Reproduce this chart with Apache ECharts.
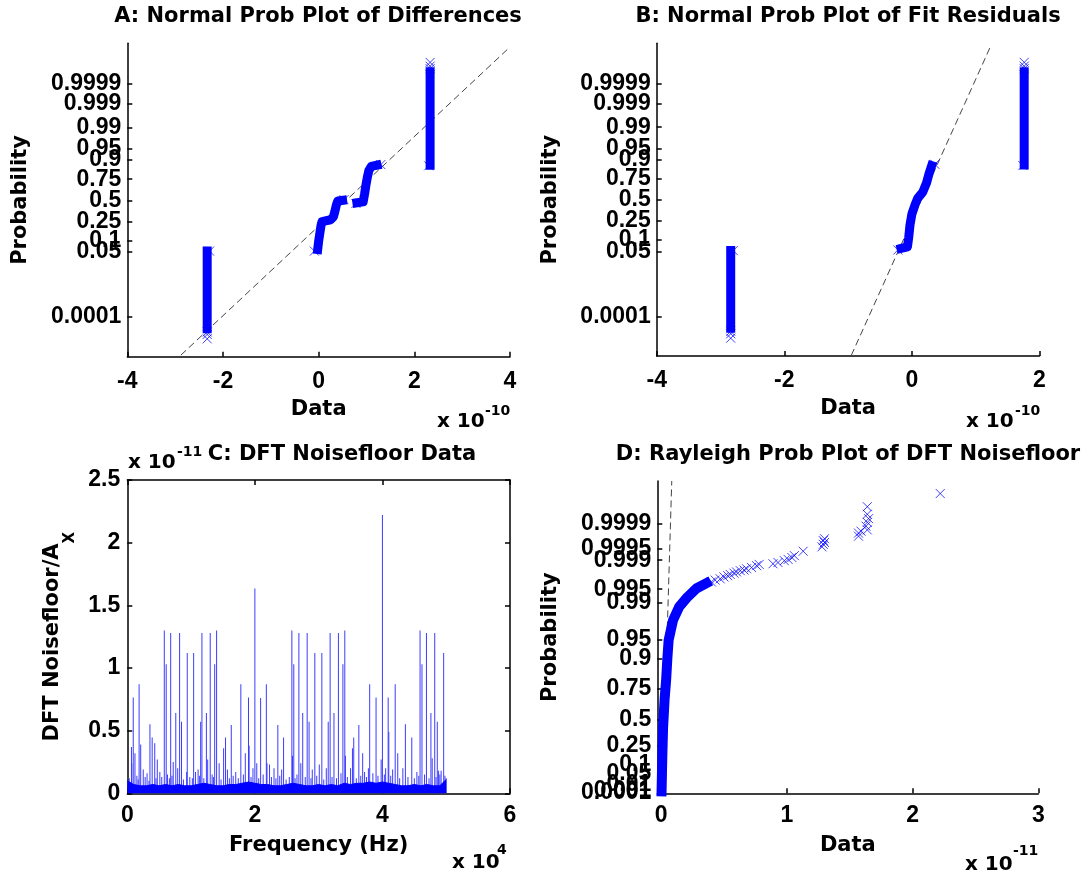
<!DOCTYPE html>
<html><head><meta charset="utf-8">
<script src="https://cdn.jsdelivr.net/npm/echarts@6/dist/echarts.min.js"></script>
<style>html,body{margin:0;padding:0;background:#fff}#c{width:1088px;height:875px}</style>
</head><body><div id="c"></div>
<script>
// ================= DATA =================
// probability tick labels
const normTickLabels = ['0.0001','0.05','0.1','0.25','0.5','0.75','0.9','0.95','0.99','0.999','0.9999'];
const rayTickLabels = ['0.0001','0.001','0.01','0.05','0.1','0.25','0.5','0.75','0.9','0.95','0.99','0.995','0.999','0.9995','0.9999'];
const rayCrowdedLabels = ['0.001','0.01','0.05','0.1'];   // crowded near the D origin
const xTicksA = [-4,-2,0,2,4];
const xTicksB = [-4,-2,0,2];
const xTicksC = [0,2,4,6];
const yTicksC = [0,0.5,1,1.5,2,2.5];
const xTicksD = [0,1,2,3];

// A: [data (x1e-10), normal quantile]
const aRefLine = [[-2.88,-4.94],[3.97,4.85]];
const aLeftColumn = [[-2.33,-4.10],[-2.33,-1.62]];
const aMidLower = [[-0.02,-1.57],[0.0,-1.3],[0.03,-1.0],[0.05,-0.8],[0.07,-0.68],[0.25,-0.62],[0.31,-0.52],[0.34,-0.35],[0.37,-0.15],[0.40,-0.02],[0.50,0.0]];
const aMidUpper = [[0.80,-0.08],[0.93,-0.05],[0.96,0.2],[0.99,0.5],[1.02,0.75],[1.05,0.95],[1.10,1.08],[1.22,1.12]];
const aRightColumn = [[2.33,1.12],[2.33,4.10]];
const aCrosses = [[-2.33,-4.20],[-2.33,-4.28],[-2.33,-4.42],[-2.28,-1.62],[-0.09,-1.62],[0.53,0.02],[0.78,-0.10],[1.30,1.14],[2.33,4.20],[2.33,4.28],[2.33,4.40],[2.30,1.10]];

// B: [data (x1e-10), normal quantile]
const bRefLine = [[-0.95,-4.97],[1.23,4.90]];
const bLeftColumn = [[-2.84,-4.10],[-2.84,-1.62]];
const bMid = [[-0.17,-1.55],[-0.07,-1.5],[-0.05,-1.2],[-0.03,-0.8],[0.0,-0.45],[0.05,-0.15],[0.09,0.05],[0.17,0.25],[0.23,0.55],[0.27,0.85],[0.31,1.1]];
const bRightColumn = [[1.76,1.12],[1.76,4.10]];
const bCrosses = [[-2.84,-4.20],[-2.84,-4.28],[-2.84,-4.42],[-2.80,-1.62],[-0.22,-1.6],[0.36,1.14],[1.76,4.20],[1.76,4.28],[1.76,4.40],[1.74,1.10]];

// C: [frequency (x1e4 Hz), DFT noisefloor/Ax (x1e-11)]
const cLargeSpikes = [[0.065,0.37],[0.093,0.765],[0.12,0.32],[0.185,0.87],[0.21,0.39],[0.25,0.19],[0.355,0.55],[0.39,0.445],[0.43,0.40],[0.47,0.27],
 [0.58,1.30],[0.61,1.03],[0.68,1.28],[0.76,0.64],[0.82,1.28],[0.85,0.57],[0.94,1.12],[1.04,1.12],[1.15,0.57],[1.17,1.28],
 [1.24,0.64],[1.30,1.28],[1.37,1.03],[1.40,1.30],[1.51,0.36],[1.54,0.445],[1.63,0.545],[1.78,0.87],[1.85,0.32],[1.90,0.765],
 [2.00,1.634],[2.09,0.76],[2.18,0.87],[2.23,0.23],[2.36,0.545],[2.45,0.445],[2.58,1.30],[2.61,1.03],[2.69,1.28],[2.75,0.64],
 [2.82,1.28],[2.85,0.57],[2.94,1.12],[3.05,1.12],[3.15,0.57],[3.18,1.28],[3.24,0.64],[3.31,1.28],[3.38,1.03],[3.41,1.30],
 [3.53,0.36],[3.55,0.445],[3.63,0.545],[3.69,0.32],[3.80,0.87],[3.90,0.765],[4.00,2.22],[4.09,0.765],[4.10,0.49],[4.20,0.87],
 [4.24,0.32],[4.36,0.55],[4.46,0.445],[4.59,1.30],[4.62,1.03],[4.69,1.28],[4.76,0.64],[4.82,1.28],[4.86,0.57],[4.96,1.12]];
const cSmallSpikes = [[0.07,0.24],[0.31,0.16],[0.51,0.17],[0.72,0.25],[0.79,0.20],[0.93,0.17],[1.07,0.17],[1.11,0.19],[1.26,0.27],[1.44,0.24],
 [1.57,0.19],[1.70,0.17],[1.91,0.38],[2.03,0.24],[2.19,0.24],[2.30,0.20],[2.42,0.19],[2.59,0.30],[2.72,0.24],[2.90,0.19],
 [3.01,0.23],[3.12,0.20],[3.42,0.30],[3.50,0.20],[3.72,0.17],[3.78,0.20],[3.98,0.27],[4.16,0.19],[4.32,0.20],[4.54,0.17],
 [4.78,0.28],[4.88,0.18],[4.92,0.18],[5.0,0.12],[0.15,0.14],[0.63,0.15],[1.33,0.15],[1.97,0.2],[2.66,0.15],[3.35,0.16],[4.05,0.2],[4.66,0.15]];
const cMinorSpikes = [[0.03,0.12],[0.17,0.11],[0.28,0.13],[0.34,0.10],[0.45,0.12],[0.54,0.13],[0.66,0.12],[0.70,0.14],[0.88,0.11],[0.98,0.13],
 [1.02,0.12],[1.13,0.14],[1.20,0.12],[1.35,0.13],[1.47,0.11],[1.60,0.12],[1.66,0.14],[1.74,0.12],[1.82,0.15],[1.94,0.13],
 [2.06,0.12],[2.13,0.15],[2.26,0.13],[2.33,0.12],[2.39,0.14],[2.49,0.11],[2.54,0.13],[2.63,0.12],[2.79,0.13],[2.88,0.12],
 [2.97,0.14],[3.08,0.11],[3.21,0.13],[3.28,0.12],[3.45,0.13],[3.59,0.12],[3.66,0.14],[3.75,0.13],[3.85,0.16],[3.93,0.14],
 [4.03,0.15],[4.13,0.14],[4.27,0.12],[4.40,0.13],[4.50,0.12],[4.57,0.14],[4.73,0.12],[4.84,0.13],[4.90,0.15],[4.98,0.14]];
const cFloor = [[0.0,0.10],[0.1,0.07],[0.2,0.06],[0.3,0.06],[0.4,0.07],[0.5,0.06],[0.6,0.07],[0.7,0.06],[0.8,0.07],[0.9,0.06],
 [1.0,0.06],[1.1,0.07],[1.2,0.08],[1.3,0.07],[1.4,0.06],[1.5,0.06],[1.6,0.07],[1.7,0.07],[1.8,0.08],[1.9,0.09],
 [2.0,0.08],[2.1,0.07],[2.2,0.07],[2.3,0.06],[2.4,0.06],[2.5,0.07],[2.6,0.08],[2.7,0.07],[2.8,0.06],[2.9,0.06],
 [3.0,0.07],[3.1,0.06],[3.2,0.07],[3.3,0.06],[3.4,0.08],[3.5,0.07],[3.6,0.08],[3.7,0.08],[3.8,0.09],[3.9,0.08],
 [4.0,0.09],[4.1,0.08],[4.2,0.07],[4.3,0.06],[4.4,0.06],[4.5,0.07],[4.6,0.06],[4.7,0.07],[4.8,0.06],[4.9,0.06],[5.0,0.11]];

// D: [data (x1e-11), Rayleigh quantile]
const dRefLine = [[0.01,0],[0.085,4.98]];
const dBody = [[0.004,0.03],[0.01,0.6],[0.016,1.05],[0.028,1.5],[0.04,1.8],[0.05,2.15],[0.06,2.44],[0.095,2.76],[0.143,2.97],[0.21,3.13],[0.284,3.27],[0.36,3.35]];
const dCrosses = [[0.40,3.37],[0.43,3.40],[0.47,3.42],[0.50,3.45],[0.53,3.47],[0.55,3.49],[0.58,3.51],[0.60,3.53],[0.63,3.55],[0.66,3.56],
 [0.68,3.58],[0.72,3.60],[0.76,3.63],[0.78,3.65],[0.89,3.66],[0.93,3.68],[0.98,3.71],[1.01,3.73],[1.04,3.76],[1.06,3.79],[1.13,3.86],
 [1.28,3.93],[1.29,3.97],[1.30,4.00],[1.29,4.03],[1.30,4.06],[1.57,4.10],[1.57,4.15],[1.59,4.18],
 [1.64,4.20],[1.63,4.26],[1.64,4.32],[1.65,4.38],[1.64,4.45],[1.64,4.57],[2.22,4.78]];

// ================= SCALES =================
function normInv(p){
 const a=[-3.969683028665376e+01,2.209460984245205e+02,-2.759285104469687e+02,1.383577518672690e+02,-3.066479806614716e+01,2.506628277459239e+00];
 const b=[-5.447609879822406e+01,1.615858368580409e+02,-1.556989798598866e+02,6.680131188771972e+01,-1.328068155288572e+01];
 const c=[-7.784894002430293e-03,-3.223964580411365e-01,-2.400758277161838e+00,-2.549732539343734e+00,4.374664141464968e+00,2.938163982698783e+00];
 const d=[7.784695709041462e-03,3.224671290700398e-01,2.445134137142996e+00,3.754408661907416e+00];
 const pl=0.02425; let q,r;
 if(p<pl){q=Math.sqrt(-2*Math.log(p));return (((((c[0]*q+c[1])*q+c[2])*q+c[3])*q+c[4])*q+c[5])/((((d[0]*q+d[1])*q+d[2])*q+d[3])*q+1);}
 if(p<=1-pl){q=p-0.5;r=q*q;return (((((a[0]*r+a[1])*r+a[2])*r+a[3])*r+a[4])*r+a[5])*q/(((((b[0]*r+b[1])*r+b[2])*r+b[3])*r+b[4])*r+1);}
 q=Math.sqrt(-2*Math.log(1-p));return -(((((c[0]*q+c[1])*q+c[2])*q+c[3])*q+c[4])*q+c[5])/((((d[0]*q+d[1])*q+d[2])*q+d[3])*q+1);
}
const rayInv = p => Math.sqrt(-2*Math.log(1-p));
const normTickPos = normTickLabels.map(s=>normInv(parseFloat(s)));
const rayTickPos = rayTickLabels.map(s=>rayInv(parseFloat(s)));
// label formatter: probability text at a tick position, blank elsewhere (blank end labels keep the library from dropping crowded end labels)
const fmtFrom = (pos, labels) => v => { for (let i=0;i<pos.length;i++) if (Math.abs(pos[i]-v)<1e-9) return labels[i]; return ''; };

// ================= STYLE =================
const FONT = 'DejaVu Sans';
const TFONT = 'Liberation Sans';
const BLUE = '#0000ff';
const CROSS = 'path://M0,0L10,10M10,0L0,10';
const AXW = 1.5;
const txt = (s, f) => ({fontFamily:f||FONT, fontWeight:'bold', fontSize:s, color:'#000'});

function xAxis(grid, min, max, ticks, name, margin, extra){
  return Object.assign({
    gridIndex:grid, type:'value', min, max, position:'bottom',
    axisLine:{show:true, onZero:false, lineStyle:{color:'#000', width:AXW}},
    axisTick:{show:true, inside:true, length:5, customValues:ticks, lineStyle:{color:'#000', width:AXW}},
    axisLabel:{show:true, customValues:ticks, margin, showMinLabel:true, showMaxLabel:true, hideOverlap:false, ...txt(23, TFONT)},
    splitLine:{show:false},
    name, nameLocation:'middle', nameGap:42, nameMoveOverlap:false, nameTextStyle:txt(21)
  }, extra||{});
}
function yAxis(grid, min, max, ticks, labelVals, fmt, name, extra){
  return Object.assign({
    gridIndex:grid, type:'value', min, max, position:'left',
    axisLine:{show:true, onZero:false, lineStyle:{color:'#000', width:AXW}},
    axisTick:{show:true, inside:true, length:5, customValues:ticks, lineStyle:{color:'#000', width:AXW}},
    axisLabel:{show:true, customValues:labelVals, margin:6, formatter:fmt, showMinLabel:true, showMaxLabel:true, hideOverlap:false, ...txt(23, TFONT)},
    splitLine:{show:false},
    name, nameLocation:'middle', nameRotate:90, nameGap:96, nameMoveOverlap:false, nameTextStyle:txt(21)
  }, extra||{});
}
// label-only overlay axis (no line, no ticks) for one crowded D label
function labelOnlyY(grid, min, max, val, text){
  return {gridIndex:grid, type:'value', min, max, position:'left',
    axisLine:{show:false}, axisTick:{show:false}, splitLine:{show:false},
    axisLabel:{show:true, customValues:[val, max], margin:6, showMinLabel:true, showMaxLabel:true, hideOverlap:false,
      formatter:v => (Math.abs(v-val)<1e-9 ? text : ''), ...txt(23, TFONT)}};
}

const refLine = (xi, data) => ({type:'line', xAxisIndex:xi, yAxisIndex:xi, data, symbol:'none', silent:true, z:1,
  lineStyle:{color:'#444', width:1, type:[7,4]}});
const body = (xi, data, w) => ({type:'line', xAxisIndex:xi, yAxisIndex:xi, data, symbol:'none', silent:true, z:2,
  lineStyle:{color:BLUE, width:w, cap:'square', join:'round'}});
const crosses = (xi, data) => ({type:'scatter', xAxisIndex:xi, yAxisIndex:xi, data, symbol:CROSS, symbolSize:9, z:3,
  itemStyle:{color:'rgba(0,0,0,0)', borderColor:BLUE, borderWidth:1, opacity:0.75}});

const texts = [];
function label(x, y, s, size, align, font){
  texts.push({type:'text', x, y, silent:true, style:{text:s, font:`bold ${size}px "${font||FONT}"`, fill:'#000', textAlign:align||'left', textVerticalAlign:'bottom'}});
}
// titles
label(318, 27, 'A: Normal Prob Plot of Differences', 21, 'center');
label(848, 27, 'B: Normal Prob Plot of Fit Residuals', 21, 'center');
label(342, 465, 'C: DFT Noisefloor Data', 21, 'center');
label(848, 465, 'D: Rayleigh Prob Plot of DFT Noisefloor', 21, 'center');
// exponent labels
label(437, 432, 'x 10', 20); label(485, 418, '-10', 14);
label(966, 432, 'x 10', 20); label(1015, 418, '-10', 14);
label(452, 873, 'x 10', 20); label(497, 857, '4', 14);
label(128, 473, 'x 10', 20); label(177, 459, '-11', 14);
label(965, 875, 'x 10', 20); label(1013, 858, '-11', 14);

const NMIN = -4.99, NMAX = 5.01, RMAX = 4.98;
const normLabelVals = [NMIN].concat(normTickPos, [NMAX]);
const rayMainLabels = rayTickLabels.filter(s => rayCrowdedLabels.indexOf(s) < 0);
const rayMainPos = rayMainLabels.map(s=>rayInv(parseFloat(s)));
const rayLabelVals = rayMainPos.concat([RMAX]);

const G = {outerBoundsMode:'none', containLabel:false};
const option = {
  animation:false,
  backgroundColor:'#fff',
  grid:[
    Object.assign({left:127.3, top:43.3, width:382.7, height:313.4}, G),
    Object.assign({left:656.7, top:43.3, width:382.8, height:312.7}, G),
    Object.assign({left:127.3, top:480, width:382.7, height:313.3}, G),
    Object.assign({left:657.3, top:481, width:381, height:312.3}, G)
  ],
  xAxis:[
    xAxis(0, -4, 4, xTicksA, 'Data', 13),
    xAxis(1, -4, 2, xTicksB, 'Data', 13),
    xAxis(2, 0, 6, xTicksC, 'Frequency (Hz)', 11),
    xAxis(3, -0.03, 3, xTicksD, 'Data', 11),
    xAxis(2, 0, 6, xTicksC, '', 10, {position:'top', axisLabel:{show:false}})
  ],
  yAxis:[
    yAxis(0, NMIN, NMAX, normTickPos, normLabelVals, fmtFrom(normTickPos, normTickLabels), 'Probability'),
    yAxis(1, NMIN, NMAX, normTickPos, normLabelVals, fmtFrom(normTickPos, normTickLabels), 'Probability'),
    yAxis(2, 0, 2.5, yTicksC, yTicksC, v=>String(v), '{a|DFT Noisefloor/A}{b|X}', {
      nameGap:50, axisLabel:{show:true, customValues:yTicksC, margin:7, showMinLabel:true, showMaxLabel:true, ...txt(23, TFONT)},
      nameTextStyle:{rich:{a:{...txt(21), lineHeight:50, verticalAlign:'middle'}, b:{...txt(15), lineHeight:16, verticalAlign:'bottom'}}}}),
    yAxis(3, 0, RMAX, rayTickPos, rayLabelVals, fmtFrom(rayMainPos, rayMainLabels), 'Probability'),
    yAxis(2, 0, 2.5, yTicksC, yTicksC, null, '', {position:'right', axisLabel:{show:false}})
  ].concat(rayCrowdedLabels.map(s => labelOnlyY(3, 0, RMAX, rayInv(parseFloat(s)), s))),
  graphic:texts,
  series:[
    refLine(0, aRefLine),
    body(0, aLeftColumn, 9), body(0, aMidLower, 9), body(0, aMidUpper, 9), body(0, aRightColumn, 9),
    crosses(0, aCrosses),
    refLine(1, bRefLine),
    body(1, bLeftColumn, 9), body(1, bMid, 9), body(1, bRightColumn, 9),
    crosses(1, bCrosses),
    {type:'line', xAxisIndex:2, yAxisIndex:2, data:cFloor, symbol:'none', silent:true, z:3,
      lineStyle:{color:BLUE, width:1}, areaStyle:{color:BLUE, opacity:1}},
    {type:'bar', xAxisIndex:2, yAxisIndex:2, data:cLargeSpikes.concat(cSmallSpikes, cMinorSpikes), barWidth:1, silent:true, z:2,
      itemStyle:{color:'#3c3cff'}},
    refLine(3, dRefLine),
    body(3, dBody, 10),
    crosses(3, dCrosses)
  ]
};
const chart = echarts.init(document.getElementById('c'), null, {renderer:'canvas'});
chart.setOption(option);
</script></body></html>
